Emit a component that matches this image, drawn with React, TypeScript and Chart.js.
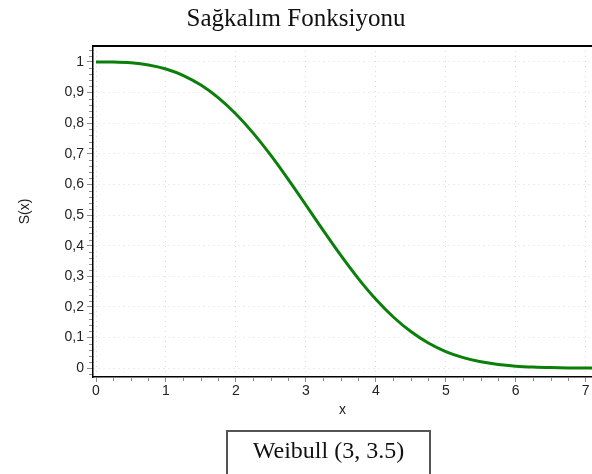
import React, { useEffect, useRef } from "react";
import { Chart, registerables } from "chart.js";

Chart.register(...registerables);

const chartTitle = "Sağkalım Fonksiyonu";
const boxLabel = "Weibull (3, 3.5)";
const xAxisLabel = "x";
const yAxisLabel = "S(x)";

const xValues = [
  0, 0.25, 0.5, 0.75, 1, 1.25, 1.5, 1.75, 2, 2.25, 2.5, 2.75, 3, 3.25, 3.5,
  3.75, 4, 4.25, 4.5, 4.75, 5, 5.25, 5.5, 5.75, 6, 6.25, 6.5, 6.75, 7, 7.1,
];
const survivalValues = [
  1, 0.9996, 0.9971, 0.9902, 0.977, 0.9555, 0.9243, 0.8825, 0.8298, 0.7667,
  0.6946, 0.6156, 0.5328, 0.449, 0.3679, 0.2923, 0.2248, 0.1669, 0.1194,
  0.0821, 0.0542, 0.0342, 0.0206, 0.0119, 0.0065, 0.0034, 0.0017, 0.0008,
  0.0003, 0.0002,
];

const xTicks = [0, 1, 2, 3, 4, 5, 6, 7];
const yTicks = [0, 0.1, 0.2, 0.3, 0.4, 0.5, 0.6, 0.7, 0.8, 0.9, 1];
const xMinorTicks = [
  0.25, 0.5, 0.75, 1.25, 1.5, 1.75, 2.25, 2.5, 2.75, 3.25, 3.5, 3.75, 4.25,
  4.5, 4.75, 5.25, 5.5, 5.75, 6.25, 6.5, 6.75,
];
const yMinorTicks = [
  -0.02, 0.02, 0.04, 0.06, 0.08, 0.12, 0.14, 0.16, 0.18, 0.22, 0.24, 0.26,
  0.28, 0.32, 0.34, 0.36, 0.38, 0.42, 0.44, 0.46, 0.48, 0.52, 0.54, 0.56,
  0.58, 0.62, 0.64, 0.66, 0.68, 0.72, 0.74, 0.76, 0.78, 0.82, 0.84, 0.86,
  0.88, 0.92, 0.94, 0.96, 0.98, 1.02, 1.04,
];

const SANS = "'Liberation Sans', Arial, sans-serif";
const SERIF = "'Liberation Serif', 'Times New Roman', serif";

const framePlugin = {
  id: "framePlugin",
  afterDraw(chart: any) {
    const { ctx, chartArea, scales } = chart;
    ctx.save();
    ctx.strokeStyle = "#000";
    ctx.lineWidth = 2;
    ctx.beginPath();
    ctx.moveTo(chartArea.left - 1, chartArea.top);
    ctx.lineTo(chartArea.right, chartArea.top);
    ctx.stroke();

    ctx.strokeStyle = "#8c8c8c";
    ctx.lineWidth = 1;
    ctx.beginPath();
    for (const v of yMinorTicks) {
      const y = Math.round(scales.y.getPixelForValue(v)) + 0.5;
      ctx.moveTo(chartArea.left - 4, y);
      ctx.lineTo(chartArea.left - 1, y);
    }
    for (const v of xMinorTicks) {
      const x = Math.round(scales.x.getPixelForValue(v)) + 0.5;
      ctx.moveTo(x, chartArea.bottom + 1);
      ctx.lineTo(x, chartArea.bottom + 4);
    }
    ctx.stroke();
    ctx.restore();
  },
};

export default function App() {
  const canvasRef = useRef<HTMLCanvasElement | null>(null);

  useEffect(() => {
    if (!canvasRef.current) return;
    const chart = new Chart(canvasRef.current, {
      type: "line",
      data: {
        datasets: [
          {
            data: xValues.map((x, i) => ({ x, y: survivalValues[i] })),
            borderColor: "#0a7f0a",
            borderWidth: 3,
            pointRadius: 0,
            fill: false,
            cubicInterpolationMode: "monotone",
          },
        ],
      },
      options: {
        animation: false,
        responsive: true,
        maintainAspectRatio: false,
        layout: { padding: { left: 0, right: 0, top: 0, bottom: 52 } },
        plugins: {
          legend: { display: false },
          tooltip: { enabled: false },
          title: {
            display: true,
            text: chartTitle,
            color: "#111",
            font: { family: SERIF, size: 25, weight: "normal", lineHeight: 1.2 },
            padding: { top: 4, bottom: 12 },
          },
        },
        scales: {
          x: {
            type: "linear",
            min: -0.043,
            max: 7.09,
            afterBuildTicks: (scale: any) => {
              scale.ticks = xTicks.map((v) => ({ value: v }));
            },
            afterFit: (scale: any) => {
              scale.height = 45;
            },
            ticks: {
              color: "#222",
              font: { family: SANS, size: 14 },
              padding: 1,
              maxRotation: 0,
              autoSkip: false,
              callback: (v: any) => String(v),
            },
            grid: {
              color: "#dcdcdc",
              lineWidth: 1,
              tickLength: 5,
              tickColor: "#8c8c8c",
            },
            border: { display: true, color: "#000", width: 1.5, dash: [1, 4] },
            title: {
              display: true,
              text: xAxisLabel,
              color: "#222",
              font: { family: SANS, size: 14 },
              padding: { top: 0, bottom: 3 },
            },
          },
          y: {
            type: "linear",
            min: -0.029,
            max: 1.052,
            afterBuildTicks: (scale: any) => {
              scale.ticks = yTicks.map((v) => ({ value: v }));
            },
            afterFit: (scale: any) => {
              scale.width = 93;
            },
            ticks: {
              color: "#222",
              font: { family: SANS, size: 14 },
              padding: 3,
              autoSkip: false,
              callback: (v: any) => String(v).replace(".", ","),
            },
            grid: {
              color: "#dcdcdc",
              lineWidth: 1,
              tickLength: 6,
              tickColor: "#8c8c8c",
            },
            border: { display: true, color: "#000", width: 1.5, dash: [1, 4] },
            title: {
              display: true,
              text: yAxisLabel,
              color: "#222",
              font: { family: SANS, size: 14 },
              padding: { top: 17, bottom: 0 },
            },
          },
        },
      },
      plugins: [framePlugin],
    } as any);
    return () => chart.destroy();
  }, []);

  return (
    <div
      style={{
        position: "absolute",
        left: 0,
        top: 0,
        width: 592,
        height: 474,
        overflow: "hidden",
        background: "#fff",
      }}
    >
      <div style={{ position: "absolute", left: 0, top: 0, width: 592, height: 474 }}>
        <canvas ref={canvasRef} />
      </div>
      <div
        style={{
          position: "absolute",
          left: 226,
          top: 430,
          width: 201,
          height: 60,
          border: "2px solid #555",
          boxSizing: "content-box",
          paddingTop: 6,
          fontFamily: SERIF,
          fontSize: 24,
          lineHeight: "24px",
          textAlign: "center",
          color: "#111",
          whiteSpace: "nowrap",
        }}
      >
        {boxLabel}
      </div>
    </div>
  );
}
